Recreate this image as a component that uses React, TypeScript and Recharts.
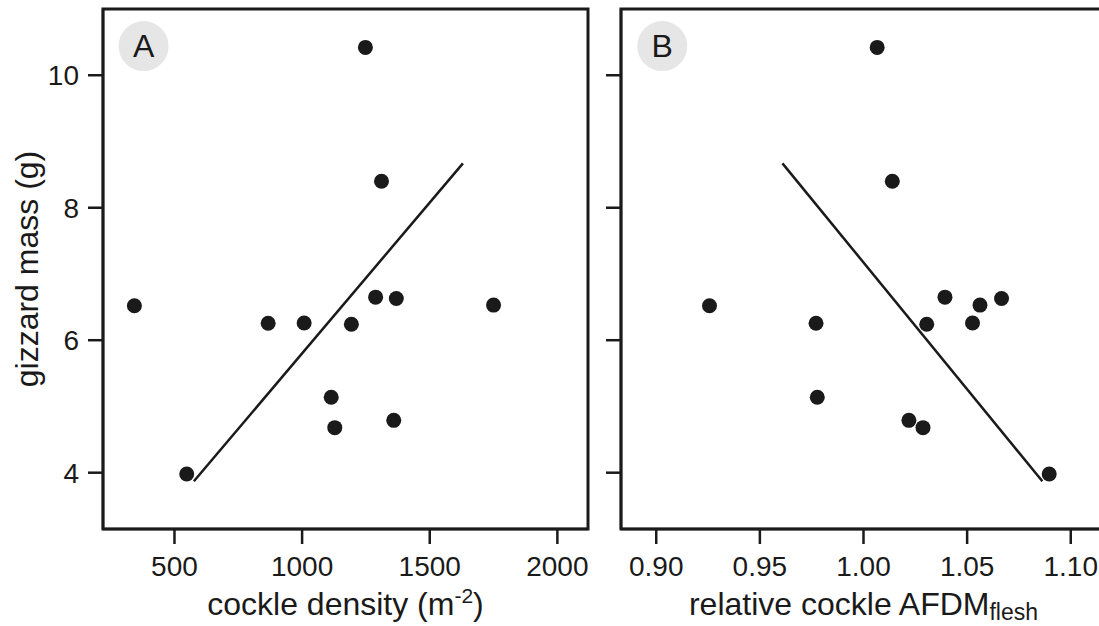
import React from "react"
import {
  ScatterChart,
  Scatter,
  XAxis,
  YAxis,
  ReferenceArea,
  ReferenceLine,
  ReferenceDot,
} from "recharts"

// gizzard mass (g), one value per bird
const gizzardMass = [10.42, 8.4, 6.65, 6.63, 6.53, 6.52, 6.26, 6.255, 6.24, 5.14, 4.79, 4.68, 3.98]
// panel A: cockle density (m-2)
const cockleDensity = [1248, 1311, 1288, 1369, 1750, 343, 1008, 867, 1193, 1114, 1359, 1128, 548]
// panel B: relative cockle AFDM flesh
const relativeAfdm = [1.0066, 1.0139, 1.0393, 1.0666, 1.0562, 0.9257, 1.0526, 0.9771, 1.0305, 0.9777, 1.0219, 1.0287, 1.0896]

// fitted lines (endpoints)
const fitA = [
  { x: 576, y: 3.87 },
  { x: 1630, y: 8.67 },
]
const fitB = [
  { x: 0.9609, y: 8.67 },
  { x: 1.0863, y: 3.87 },
]

const yTicks = [4, 6, 8, 10]
const densityTicks = [500, 1000, 1500, 2000]
const afdmTicks = [0.9, 0.95, 1.0, 1.05, 1.1]

const yDomain = [3.15, 11.0]
const densityDomain = [220, 2120]
const afdmDomain = [0.883, 1.117]

// panel letter badges
const badgeY = 10.44
const badgeAX = 379
const badgeBX = 0.9029

const FONT = '"Liberation Sans", Arial, Helvetica, sans-serif'
const INK = "#1a1a1a"
const W = 2.5

const dataA = gizzardMass.map((m, i) => ({ x: cockleDensity[i], y: m }))
const dataB = gizzardMass.map((m, i) => ({ x: relativeAfdm[i], y: m }))

const Dot = (p: any) => <circle cx={p.cx} cy={p.cy} r={7.5} fill={INK} />

const tickStyle = { fontSize: 28, fill: INK, fontFamily: FONT }
const lineStyle = { stroke: INK, strokeWidth: W }

function DensityLabel(props: any) {
  const { x, y, width } = props.viewBox
  return (
    <text x={x + width / 2} y={y + 86} textAnchor="middle" fontSize={32} fill={INK} fontFamily={FONT}>
      cockle density (m
      <tspan dy={-12} fontSize={21}>-2</tspan>
      <tspan dy={12}>)</tspan>
    </text>
  )
}

function AfdmLabel(props: any) {
  const { x, y, width } = props.viewBox
  return (
    <text x={x + width / 2} y={y + 86} textAnchor="middle" fontSize={32} fill={INK} fontFamily={FONT}>
      relative cockle AFDM
      <tspan dy={5} fontSize={23}>flesh</tspan>
    </text>
  )
}

function MassLabel(props: any) {
  const { y, height } = props.viewBox
  const cx = 38
  const cy = y + height / 2
  return (
    <text
      x={cx}
      y={cy}
      transform={`rotate(-90, ${cx}, ${cy})`}
      textAnchor="middle"
      fontSize={32}
      fill={INK}
      fontFamily={FONT}
    >
      gizzard mass (g)
    </text>
  )
}

export default function App() {
  return (
    <div
      style={{
        position: "absolute",
        left: 0,
        top: 0,
        width: 1099,
        height: 626,
        overflow: "hidden",
        background: "#fff",
      }}
    >
      <div style={{ position: "absolute", left: 0, top: 0 }}>
        <ScatterChart width={600} height={626} margin={{ top: 9, right: 12, bottom: 0, left: 0 }}>
          <XAxis
            type="number"
            dataKey="x"
            domain={densityDomain}
            ticks={densityTicks}
            interval={0}
            height={97}
            tickSize={15}
            tickMargin={12}
            tick={tickStyle}
            tickLine={lineStyle}
            axisLine={lineStyle}
            label={(p: any) => <DensityLabel {...p} />}
          />
          <YAxis
            type="number"
            dataKey="y"
            domain={yDomain}
            ticks={yTicks}
            interval={0}
            width={103}
            tickSize={15}
            tickMargin={9}
            tick={tickStyle}
            tickLine={lineStyle}
            axisLine={lineStyle}
            label={(p: any) => <MassLabel {...p} />}
          />
          <ReferenceArea
            x1={densityDomain[0]}
            x2={densityDomain[1]}
            y1={yDomain[0]}
            y2={yDomain[1]}
            fill="none"
            stroke={INK}
            strokeWidth={3}
          />
          <ReferenceDot
            x={badgeAX}
            y={badgeY}
            r={25}
            fill="#e6e6e6"
            stroke="none"
            label={{ value: "A", position: "center", fontSize: 32, fill: INK, fontFamily: FONT }}
          />
          <ReferenceLine segment={fitA} stroke={INK} strokeWidth={W} />
          <Scatter data={dataA} shape={Dot} isAnimationActive={false} />
        </ScatterChart>
      </div>
      <div style={{ position: "absolute", left: 600, top: 0 }}>
        <ScatterChart width={520} height={626} margin={{ top: 9, right: 14, bottom: 0, left: 0 }}>
          <XAxis
            type="number"
            dataKey="x"
            domain={afdmDomain}
            ticks={afdmTicks}
            interval={0}
            height={97}
            tickSize={15}
            tickMargin={12}
            tick={tickStyle}
            tickLine={lineStyle}
            axisLine={lineStyle}
            tickFormatter={(v: number) => v.toFixed(2)}
            label={(p: any) => <AfdmLabel {...p} />}
          />
          <YAxis
            type="number"
            dataKey="y"
            domain={yDomain}
            ticks={yTicks}
            interval={0}
            width={21}
            tickSize={15}
            tickMargin={4}
            tick={tickStyle}
            tickLine={lineStyle}
            axisLine={lineStyle}
            tickFormatter={() => ""}
          />
          <ReferenceArea
            x1={afdmDomain[0]}
            x2={afdmDomain[1]}
            y1={yDomain[0]}
            y2={yDomain[1]}
            fill="none"
            stroke={INK}
            strokeWidth={3}
          />
          <ReferenceDot
            x={badgeBX}
            y={badgeY}
            r={25}
            fill="#e6e6e6"
            stroke="none"
            label={{ value: "B", position: "center", fontSize: 32, fill: INK, fontFamily: FONT }}
          />
          <ReferenceLine segment={fitB} stroke={INK} strokeWidth={W} />
          <Scatter data={dataB} shape={Dot} isAnimationActive={false} />
        </ScatterChart>
      </div>
    </div>
  )
}
